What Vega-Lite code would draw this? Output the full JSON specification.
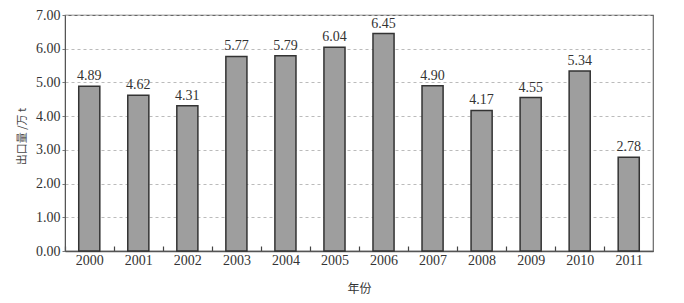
{
  "$schema": "https://vega.github.io/schema/vega-lite/v6.json",
  "width": 588,
  "height": 236,
  "autosize": {"type": "none"},
  "padding": {"left": 65, "top": 15, "right": 31, "bottom": 52},
  "background": "white",
  "config": {
    "font": "Liberation Serif",
    "view": {"stroke": "#666", "strokeWidth": 1.2}
  },
  "data": {
    "values": [
      {"year": "2000", "v": 4.89},
      {"year": "2001", "v": 4.62},
      {"year": "2002", "v": 4.31},
      {"year": "2003", "v": 5.77},
      {"year": "2004", "v": 5.79},
      {"year": "2005", "v": 6.04},
      {"year": "2006", "v": 6.45},
      {"year": "2007", "v": 4.90},
      {"year": "2008", "v": 4.17},
      {"year": "2009", "v": 4.55},
      {"year": "2010", "v": 5.34},
      {"year": "2011", "v": 2.78}
    ]
  },
  "encoding": {
    "x": {
      "field": "year",
      "type": "nominal",
      "sort": null,
      "scale": {"paddingInner": 0.57, "paddingOuter": 0.28},
      "axis": {
        "title": "年份",
        "titleFont": "Noto Sans CJK SC",
        "titleFontSize": 12,
        "titleFontWeight": "normal",
        "titleColor": "#333",
        "titlePadding": 16,
        "labelAngle": 0,
        "labelFontSize": 14,
        "labelColor": "#333",
        "labelPadding": 7,
        "labelOffset": 24.5,
        "ticks": true,
        "tickSize": -5,
        "tickOffset": -24.5,
        "tickWidth": 1.2,
        "tickColor": "#444",
        "domainColor": "#555",
        "domainWidth": 1.5,
        "grid": false
      }
    },
    "y": {
      "field": "v",
      "type": "quantitative",
      "scale": {"domain": [0, 7]},
      "axis": {
        "title": "出口量 /万 t",
        "titleFont": "Noto Sans CJK SC",
        "titleFontSize": 11,
        "titleFontWeight": "normal",
        "titleColor": "#444",
        "titleX": -43,
        "titleY": 121,
        "titleAngle": -90,
        "titleAlign": "center",
        "titleBaseline": "middle",
        "format": ".2f",
        "tickCount": 7,
        "labelFontSize": 14,
        "labelColor": "#333",
        "labelPadding": 2,
        "tickSize": 3,
        "tickColor": "#777",
        "domain": true,
        "domainColor": "#555",
        "gridColor": "#bbb",
        "gridDash": [3, 3]
      }
    }
  },
  "layer": [
    {
      "mark": {"type": "bar", "fill": "#9e9e9e", "stroke": "#333", "strokeWidth": 1.5}
    },
    {
      "mark": {"type": "text", "dy": -3, "fontSize": 14, "color": "#333", "baseline": "bottom"},
      "encoding": {"text": {"field": "v", "type": "quantitative", "format": ".2f"}}
    }
  ]
}
